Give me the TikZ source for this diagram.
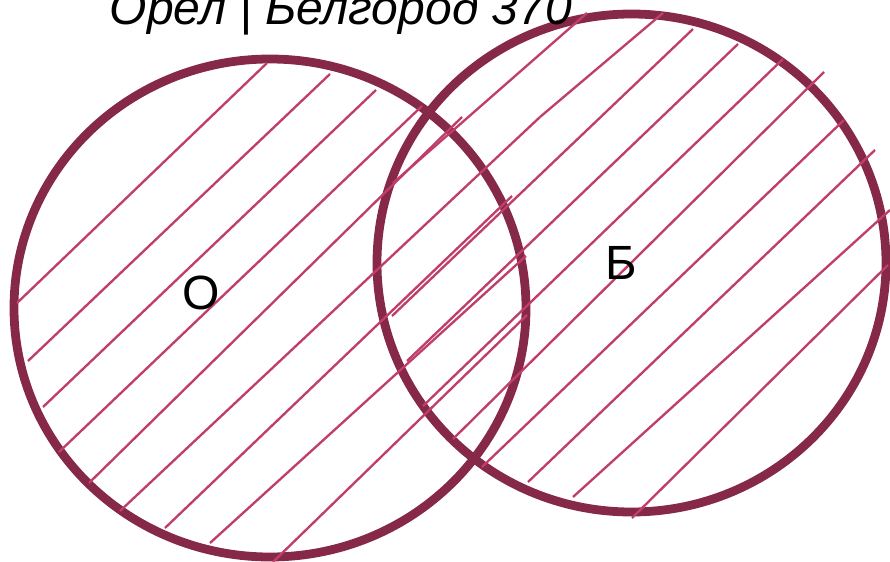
\documentclass[tikz,border=0pt]{standalone}
\usepackage{fontspec}
\setmainfont{Liberation Sans}
\definecolor{ringred}{RGB}{134,40,72}
\definecolor{hatchred}{RGB}{192,62,108}

\begin{document}
\begin{tikzpicture}[x=0.03cm, y=-0.03cm]
  \tikzset{
    ring/.style={draw=ringred, line width=7.5pt},
    hatch/.style={draw=hatchred, line width=2pt},
    setname/.style={font=\fontsize{41}{49}\selectfont, inner sep=0pt},
  }
  \useasboundingbox (0,0) rectangle (890,562);

  % the two sets
  \draw[ring] (270,308) ellipse [x radius=256, y radius=249];
  \draw[ring] (631.5,263) ellipse [x radius=254.5, y radius=249];

  % hatching, upper end / lower end
  \foreach \ux/\uy/\lx/\ly in {267/63/17/303, 330/74/28/361, 376/90/43/407,
      422/106/59/452, 462/117/89/483, 663/13/540/117, 540/117/120/511,
      512/196/165/528, 526/256/210/543, 527/315/273/562,
      888/265/632/518, 890/210/573/497, 875/150/528/482, 844/120/482/467,
      824/72/453/439, 783/59/423/406, 738/44/407/361, 693/29/392/316,
      587/13/393/183}
    \draw[hatch] (\ux,\uy) -- (\lx,\ly);

  % labels
  \node[setname, anchor=base] (title) at (341,25) {\itshape Орел | Белгород 370};
  \node[setname] (O) at (201,293) {О};
  \node[setname] (B) at (621,263) {Б};
\end{tikzpicture}
\end{document}
